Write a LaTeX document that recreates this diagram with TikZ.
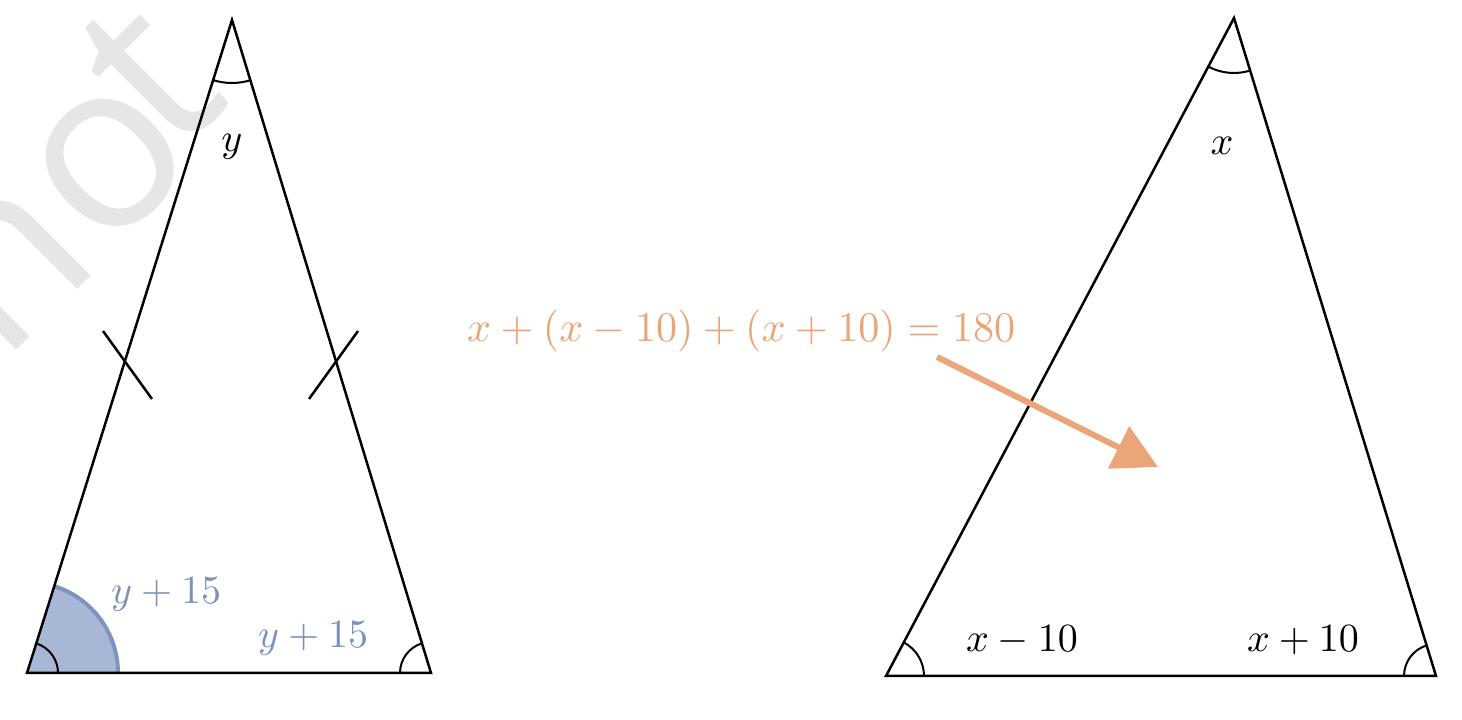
\documentclass[tikz,border=0pt]{standalone}
\usepackage{graphicx}
\usepackage{fontspec}
\newfontfamily\wmfont{Open Sans}
\usetikzlibrary{angles,arrows.meta,calc}
\definecolor{wmgray}{HTML}{E6E6E6}
\definecolor{bluefill}{HTML}{A9B7D7}
\definecolor{blueline}{HTML}{7D93C0}
\definecolor{bluetext}{HTML}{7B90BD}
\definecolor{orangeA}{HTML}{EAA678}
\newcommand{\lblmath}[1]{\scalebox{4}{$#1$}}
\newcommand{\eqmath}[1]{\scalebox{4.22}{$#1$}}
\tikzset{
  tri/.style={line width=2.5pt, line join=miter},
  tick/.style={line width=2.5pt},
  anglearc/.style={draw, line width=2pt},
  lbl/.style={inner sep=0pt},
  bluelbl/.style={lbl, text=bluetext},
  eqlbl/.style={inner sep=0pt, text=orangeA},
  wm/.style={inner sep=0pt, text=wmgray, rotate=45, font=\wmfont\fontsize{235}{240}\selectfont},
  arrowline/.style={draw=orangeA, line width=6pt, -{Triangle[length=44pt,width=46pt]}},
}
\begin{document}
\begin{tikzpicture}[x=1pt,y=1pt]
\useasboundingbox (0,0) rectangle (1462,720);
\fill[white] (0,0) rectangle (1462,720);
% watermark
\node[wm] (wmn) at (8,452) {n};
\node[wm] (wmo) at (110,557) {o};
\node[wm] (wmt) at (150,645) {t};
% left triangle
\coordinate (A1) at (232,700);
\coordinate (B1) at (27,47);
\coordinate (C1) at (431,47);
\pic[fill=bluefill, draw=blueline, line width=4pt, angle radius=91pt] {angle=C1--B1--A1};
\draw[tri] (A1) -- (B1) -- (C1) -- cycle;
\pic[anglearc, angle radius=31pt] {angle=C1--B1--A1};
\pic[anglearc, angle radius=31pt] {angle=A1--C1--B1};
\pic[anglearc, angle radius=63pt] {angle=B1--A1--C1};
\coordinate (t1a) at (103,389);
\coordinate (t1b) at (152,321);
\coordinate (t2a) at (358,389);
\coordinate (t2b) at (309,321);
\draw[tick] (t1a) -- (t1b);
\draw[tick] (t2a) -- (t2b);
\node[lbl, anchor=base] (ly) at (232,568) {\lblmath{y}};
\node[bluelbl, anchor=base west] (lb1) at (111,116) {\lblmath{y+15}};
\node[bluelbl, anchor=base west] (lb2) at (258,72) {\lblmath{y+15}};
% right triangle
\coordinate (A2) at (1234,702);
\coordinate (B2) at (886,44);
\coordinate (C2) at (1436,44);
\draw[tri] (A2) -- (B2) -- (C2) -- cycle;
\pic[anglearc, angle radius=38pt] {angle=C2--B2--A2};
\pic[anglearc, angle radius=32pt] {angle=A2--C2--B2};
\pic[anglearc, angle radius=55pt] {angle=B2--A2--C2};
\node[lbl, anchor=base] (lx) at (1222,565) {\lblmath{x}};
\node[lbl, anchor=base west] (lxm) at (966,68) {\lblmath{x-10}};
\node[lbl, anchor=base west] (lxp) at (1247,68) {\lblmath{x+10}};
% equation and arrow
\node[eqlbl, anchor=base west] (eq) at (467,378) {\eqmath{x+(x-10)+(x+10)=180}};
\coordinate (as) at (937,363);
\coordinate (ae) at (1158,253);
\draw[arrowline] (as) -- (ae);
\end{tikzpicture}
\end{document}
